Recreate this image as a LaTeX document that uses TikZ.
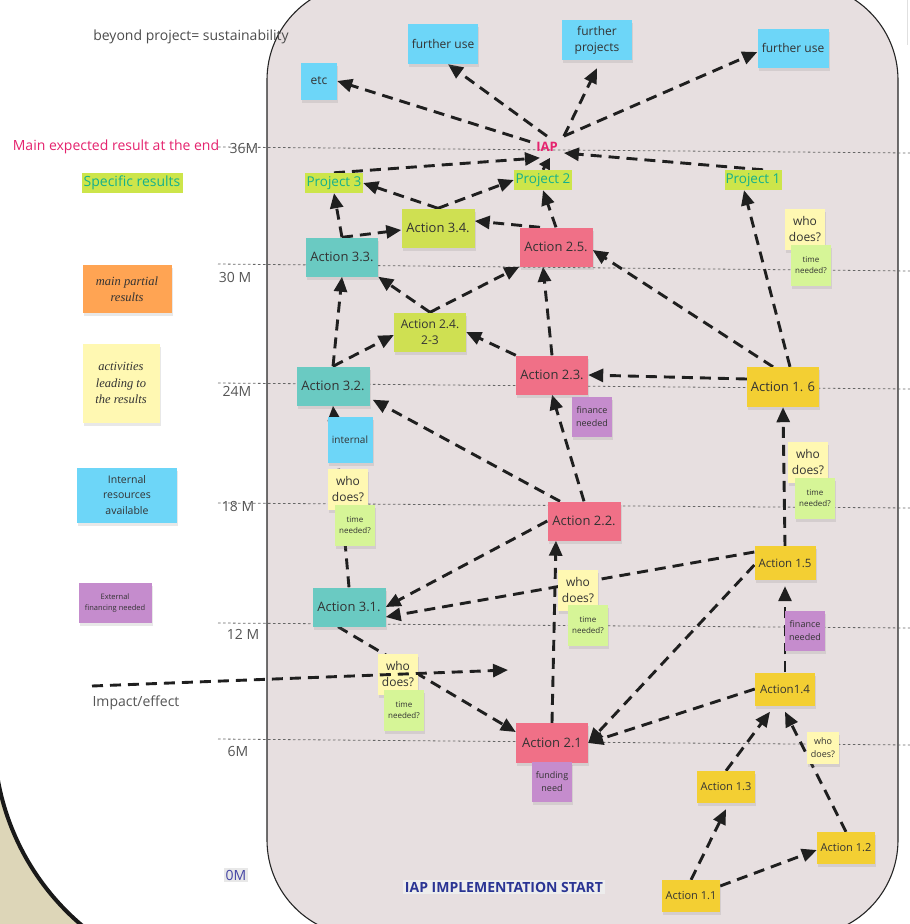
\documentclass[tikz,border=0pt]{standalone}
\usepackage{fontspec}
\setmainfont{Open Sans}
\newfontfamily\handf{Liberation Serif}
\usetikzlibrary{arrows.meta,shadows,calc}
\pgfdeclarelayer{bg}
\pgfdeclarelayer{arr}
\pgfsetlayers{bg,arr,main}
\newcommand\fsz[2]{\fontsize{#1}{#2}\selectfont}
\definecolor{shapec}{HTML}{E7DFE0}
\definecolor{beige}{HTML}{DDD6B8}
\definecolor{bluen}{HTML}{6DD6F8}
\definecolor{pinkn}{HTML}{F07087}
\definecolor{tealn}{HTML}{6ACAC2}
\definecolor{lgreenn}{HTML}{CFE052}
\definecolor{goldn}{HTML}{F3CF33}
\definecolor{yelln}{HTML}{FFF8B2}
\definecolor{greenn}{HTML}{D6F597}
\definecolor{purpn}{HTML}{C58CCD}
\definecolor{orangen}{HTML}{FFA453}
\definecolor{projbg}{HTML}{CDE54A}
\definecolor{projtx}{HTML}{15B08C}
\definecolor{magc}{HTML}{E5236E}
\definecolor{txtc}{HTML}{333333}
\definecolor{labc}{HTML}{555555}
\definecolor{startc}{HTML}{2A3594}
\definecolor{zeroc}{HTML}{4545A5}
\begin{document}
\begin{tikzpicture}[x=1pt,y=-1pt,
  note/.style={inner sep=0pt, align=center, text=txtc,
    drop shadow={shadow xshift=1pt,shadow yshift=-3pt,opacity=0.18}},
  sz/.style 2 args={minimum width=#1pt, minimum height=#2pt},
  bign/.style={note, font=\fsz{13}{16}},
  smn/.style={note, fill=goldn, font=\fsz{11}{14}, sz={58}{32}},
  whod/.style={note, fill=yelln, font=\fsz{12}{16.5}, sz={40}{41}},
  timen/.style={note, fill=greenn, font=\fsz{8}{11.5}, sz={40}{41}},
  finn/.style={note, fill=purpn, font=\fsz{9}{13}, sz={40}{40}},
  proj/.style={fill=projbg, text=projtx, inner sep=0.5pt, font=\fsz{13.5}{16}},
  topn/.style={note, fill=bluen, font=\fsz{12}{16}},
  arr/.style={draw=black!88, line width=2.9pt, dash pattern=on 11pt off 7pt,
    -{Triangle[length=15pt,width=13pt]}},
  dotl/.style={draw=black!60, line width=0.8pt, dash pattern=on 2.5pt off 2.5pt},
  lab/.style={text=labc, font=\fsz{14}{16}, inner sep=0pt},
]
\useasboundingbox (0,0) rectangle (910,924);
\begin{pgfonlayer}{bg}
\fill[white] (-5,-5) rectangle (915,929);
% bottom-left corner
\fill[beige] (-10,770) -- ($(242,736)+(172:248)$) arc[start angle=172, end angle=125, radius=248] -- (-10,960) -- cycle;
\draw[black!90, line width=4pt] ($(242,736)+(172:248)$) arc[start angle=172, end angle=125, radius=248];
\draw[black!12, line width=1pt] (907,0) -- (907,45);
% main shape
\draw[fill=shapec, draw=black!85, line width=1.1pt, rounded corners=96pt] (267,-16) rectangle (898,936);
% time labels and lines
\node[lab] (t36) at (244,148) {36M};
\node[lab] (t30) at (235,277) {30 M};
\node[lab] (t24) at (237,391) {24M};
\node[lab] (t18) at (238,506) {18 M};
\node[lab] (t12) at (243,634) {12 M};
\node[lab] (t6) at (238,751) {6M};
\node[lab, text=zeroc, fill=black!9, inner sep=1.5pt] (t0) at (236,875) {0M};
\draw[dotl] (218,147) -- (910,153);
\draw[dotl] (218,264) -- (910,271);
\draw[dotl] (218,383) -- (910,389);
\draw[dotl] (218,503) -- (910,508);
\draw[dotl] (218,623) -- (910,628);
\draw[dotl] (218,739) -- (910,745);
\end{pgfonlayer}

% legend
\node[lab, text=black!70] (beyond) at (191,37) {beyond project= sustainability};
\node[lab, text=magc] (mainres) at (116,147) {Main expected result at the end};
\node[proj, sz={101}{20}, font=\fsz{14}{16}] (spec) at (132,183) {Specific results};
\node[note, fill=orangen, sz={89}{48}, font=\handf\itshape\fsz{12.5}{16}] (leg1) at (127,289) {main partial\\results};
\node[note, fill=yelln, sz={77}{79}, font=\handf\itshape\fsz{12.5}{16.5}] (leg2) at (121,383) {activities\\leading to\\the results};
\node[note, fill=bluen, sz={100}{55}, font=\fsz{10.5}{15.5}] (leg3) at (127,495) {Internal\\resources\\available};
\node[note, fill=purpn, sz={73}{40}, font=\fsz{7.5}{11}] (leg4) at (115,603) {External\\financing needed};
\node[lab] (impact) at (136,703) {Impact/effect};
\coordinate (imps) at (92,686);
\coordinate (impe) at (508,670);

% top
\node[topn, sz={36}{37}] (etc) at (319,81) {etc};
\node[topn, sz={70}{40}] (fu1) at (443,44) {further use};
\node[topn, sz={70}{40}] (fp) at (597,40) {further\\projects};
\node[topn, sz={71}{39}] (fu2) at (793,48) {further use};
\node[text=magc, font=\bfseries\fsz{13}{15}, inner sep=6pt] (iap) at (547,147) {IAP};
\node[proj, sz={58}{20}] (p3) at (334,183) {Project 3};
\node[proj, sz={58}{20}] (p2) at (543,180) {Project 2};
\node[proj, sz={57}{20}] (p1) at (753,180) {Project 1};

% actions
\node[bign, fill=lgreenn, sz={73}{39}] (a34) at (438,228) {Action 3.4.};
\node[bign, fill=pinkn, sz={73}{39}] (a25) at (556,247) {Action 2.5.};
\node[bign, fill=tealn, sz={72}{39}] (a33) at (342,257) {Action 3.3.};
\node[whod] (wd1) at (805,229) {who\\does?};
\node[timen] (tn1) at (811,265) {time\\needed?};
\node[note, fill=lgreenn, sz={72}{39}, font=\fsz{12}{16}] (a24) at (430,332) {Action 2.4.\\2-3};
\node[bign, fill=pinkn, sz={72}{39}] (a23) at (552,375) {Action 2.3.};
\node[bign, fill=goldn, sz={72}{40}] (a16) at (783,387) {Action 1. 6};
\node[bign, fill=tealn, sz={73}{39}] (a32) at (333,386) {Action 3.2.};
\node[finn] (fn1) at (592,417) {finance\\needed};
\node[note, fill=bluen, sz={45}{46}, font=\fsz{10}{13}] (intl) at (350,440) {internal};
\node[whod] (wd2) at (348,489) {who\\does?};
\node[timen] (tn2) at (355,525) {time\\needed?};
\node[whod] (wd3) at (808,462) {who\\does?};
\node[timen] (tn3) at (815,498) {time\\needed?};
\node[bign, fill=pinkn, sz={73}{39}] (a22) at (584,521) {Action 2.2.};
\node[note, fill=goldn, sz={61}{34}, font=\fsz{11.5}{14}] (a15) at (785,563) {Action 1.5};
\node[bign, fill=tealn, sz={73}{39}] (a31) at (349,607) {Action 3.1.};
\node[whod] (wd4) at (578,590) {who\\does?};
\node[timen] (tn4) at (588,625) {time\\needed?};
\node[finn] (fn2) at (805,631) {finance\\needed};
\node[note, fill=goldn, sz={60}{33}, font=\fsz{11.5}{14}] (a14) at (785,689) {Action1.4};
\node[whod] (wd5) at (398,674) {who\\does?};
\node[timen] (tn5) at (404,710) {time\\needed?};
\node[bign, fill=pinkn, sz={72}{40}] (a21) at (552,743) {Action 2.1};
\node[finn] (fund) at (552,782) {funding\\need};
\node[note, fill=yelln, sz={32}{32}, font=\fsz{9}{13}] (wd6) at (823,748) {who\\does?};
\node[smn] (a13) at (726,787) {Action 1.3};
\node[smn] (a12) at (846,848) {Action 1.2};
\node[smn] (a11) at (691,896) {Action 1.1};
\node[text=startc, fill=black!7, font=\bfseries\fsz{14}{16}, inner sep=1.5pt] (start) at (504,887) {IAP IMPLEMENTATION START};

\begin{pgfonlayer}{arr}
% IAP outward
\draw[arr] (iap) -- (etc.east);
\draw[arr] (iap.north) -- ([xshift=5pt]fu1.south);
\draw[arr] (iap.north east) -- ([yshift=-8pt]fp.south);
\draw[arr] (iap.north east) -- ([yshift=-4pt]fu2.west);
% projects to IAP
\draw[arr] (p3.north) -- ([xshift=-7pt]iap.south);
\draw[arr, -{Triangle[length=11pt,width=12pt]}] (p2.north) -- ([xshift=3pt]iap.south);
\draw[arr] ([xshift=10pt]p1.north) -- ([yshift=-6pt]iap.east);
% level 3
\draw[arr] (a34.north) -- (p3.east);
\draw[arr] (a34.north) -- (p2.west);
\draw[arr] (a33.north) -- (p3.south);
\draw[arr] (a33.north) -- ([yshift=-2pt]a34.west);
\draw[arr] ([xshift=-16pt]a25.north) -- ([yshift=7pt]a34.east);
\draw[arr] (a25.north) -- (p2.south);
\draw[arr] (a24.north) -- (a33.south east);
\draw[arr] (a24.north) -- (a25.south west);
\draw[arr] (a23.north) -- ([xshift=-13pt]a25.south);
\draw[arr] (a23.north west) -- (a24.east);
\draw[arr] (a32.north) -- (a33.south);
\draw[arr] (a32.north) -- ([yshift=-3pt]a24.west);
\draw[arr] ([xshift=7pt]a16.north) -- ([xshift=-9pt]p1.south);
\draw[arr] ([xshift=-10pt]a16.north) -- ([yshift=-3pt]a25.east);
\draw[arr] ([yshift=8pt]a16.west) -- (a23.east);
\draw[arr] ([xshift=-24pt]a22.north) -- ([xshift=3pt,yshift=6pt]a32.south east);
\draw[arr] (a22.north) -- (a23.south);
\draw[arr] (a22.west) -- (a31.east);
\draw[arr] ([yshift=11pt]a15.west) -- ([yshift=-10pt]a31.east);
\draw[arr] (a31.north) -- (a32.south);
\draw[arr] (a15.north) -- (a16.south);
\draw[arr] (a21.north) -- ([xshift=-28pt]a22.south);
\draw[arr] ([yshift=-2pt]a15.west) -- (a21.east);
\draw[arr] (a14.west) -- (a21.east);
\draw[arr] (a14.north) -- ([yshift=-6pt]a15.south);
\draw[arr] (a13.north) -- ([xshift=-15pt,yshift=-6pt]a14.south);
\draw[arr] (a12.north) -- ([yshift=-6pt]a14.south);
\draw[arr] (a11.north) -- ([yshift=-6pt]a13.south);
\draw[arr] ([yshift=10pt]a11.east) -- ([yshift=-2pt]a12.west);
\draw[arr] ([xshift=-11pt]a31.south) -- ([yshift=11pt]a21.west);
\end{pgfonlayer}
\draw[arr] (imps) -- (impe);
\end{tikzpicture}
\end{document}
